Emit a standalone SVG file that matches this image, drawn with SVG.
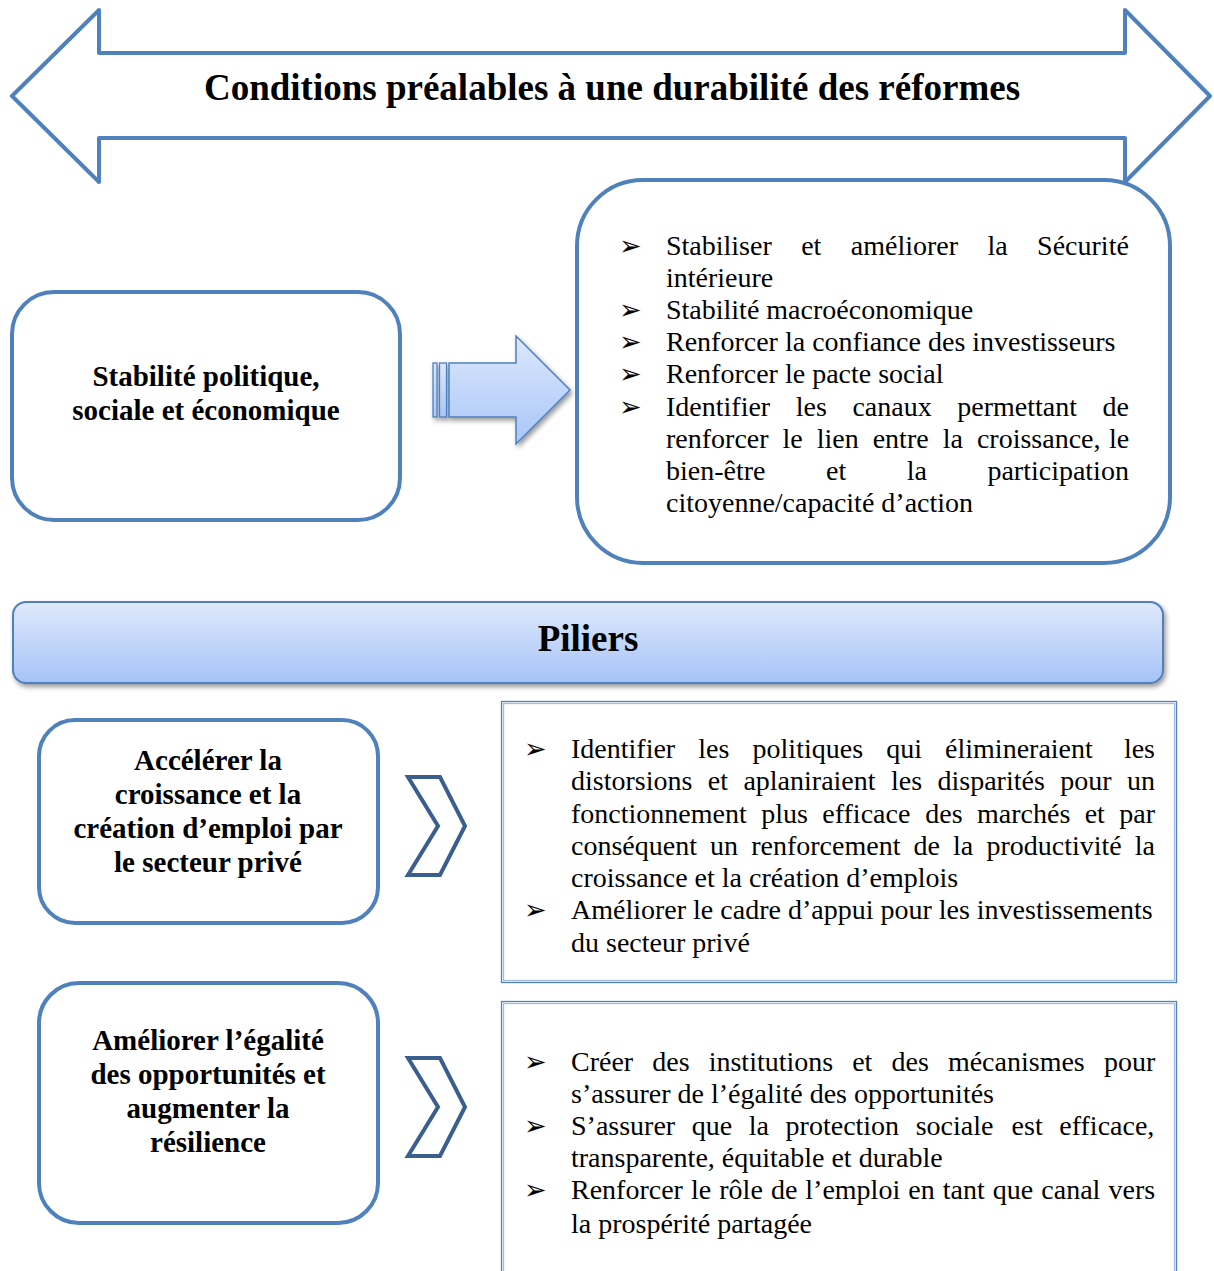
<svg xmlns="http://www.w3.org/2000/svg" width="1214" height="1271" viewBox="0 0 1214 1271">
<defs>
  <linearGradient id="gBar" x1="0" y1="0" x2="0" y2="1">
    <stop offset="0" stop-color="#dfe9fc"/>
    <stop offset="1" stop-color="#a6c3f7"/>
  </linearGradient>
  <linearGradient id="gArrow" x1="0" y1="0" x2="0" y2="1">
    <stop offset="0" stop-color="#dce8fc"/>
    <stop offset="1" stop-color="#a9c6f8"/>
  </linearGradient>
  <filter id="shadow" x="-10%" y="-20%" width="130%" height="160%">
    <feGaussianBlur in="SourceAlpha" stdDeviation="2.5"/>
    <feOffset dx="2" dy="3" result="b"/>
    <feComponentTransfer><feFuncA type="linear" slope="0.4"/></feComponentTransfer>
    <feMerge><feMergeNode/><feMergeNode in="SourceGraphic"/></feMerge>
  </filter>
  <style>
    .outline { fill: #ffffff; stroke: #4f81bd; stroke-width: 4; stroke-linejoin: round; }
    .chev { fill: #ffffff; stroke: #3a5f8f; stroke-width: 4; stroke-linejoin: miter; }
    .dbl-out { fill: none; stroke: #4f81bd; stroke-width: 1.3; }
    .dbl-in { fill: none; stroke: #a3bde0; stroke-width: 1.3; }
    .title { font-family: "Liberation Serif", "Times New Roman", serif; font-weight: bold; fill: #000; }
    .body { font-family: "Liberation Serif", "Times New Roman", serif; font-size: 28px; fill: #000; }
    .bul { font-family: "DejaVu Sans", sans-serif; font-size: 27px; fill: #000; }
  </style>
</defs>

<rect width="1214" height="1271" fill="#ffffff"/>

<g id="banner">
  <polygon class="outline" points="12,96 99,10 99,53 1125,53 1125,10 1210,96 1125,182 1125,138 99,138 99,182"/>
  <text class="title" x="612" y="100" font-size="37" text-anchor="middle">Conditions préalables à une durabilité des réformes</text>
</g>

<g id="node-stabilite">
  <rect class="outline" x="12" y="292" width="388" height="228" rx="42" ry="42"/>
  <text class="title" font-size="29" text-anchor="middle"><tspan x="206" y="386">Stabilité politique,</tspan><tspan x="206" y="420">sociale et économique</tspan></text>
</g>

<g id="node-conditions-list">
  <rect class="outline" x="577" y="180" width="593" height="383" rx="66" ry="66"/>
  <g class="bul">
    <text x="619" y="255">➢</text>
    <text x="619" y="319">➢</text>
    <text x="619" y="351">➢</text>
    <text x="619" y="383">➢</text>
    <text x="619" y="416">➢</text>
  </g>
  <g class="body">
    <text y="255"><tspan x="666">Stabiliser</tspan><tspan x="801.2">et</tspan><tspan x="850.8">améliorer</tspan><tspan x="987.5">la</tspan><tspan x="1037.1">Sécurité</tspan></text>
    <text x="666" y="287">intérieure</text>
    <text x="666" y="319">Stabilité macroéconomique</text>
    <text x="666" y="351">Renforcer la confiance des investisseurs</text>
    <text x="666" y="383">Renforcer le pacte social</text>
    <text y="416"><tspan x="666">Identifier</tspan><tspan x="795.8">les</tspan><tspan x="852.4">canaux</tspan><tspan x="957.3">permettant</tspan><tspan x="1102.6">de</tspan></text>
    <text y="448"><tspan x="666">renforcer</tspan><tspan x="782.6">le</tspan><tspan x="816.8">lien</tspan><tspan x="872.7">entre</tspan><tspan x="942.7">la</tspan><tspan x="976.9">croissance,</tspan><tspan x="1108.9">le</tspan></text>
    <text y="480"><tspan x="666">bien-être</tspan><tspan x="826">et</tspan><tspan x="906.7">la</tspan><tspan x="987.4">participation</tspan></text>
    <text x="666" y="512">citoyenne/capacité d’action</text>
  </g>
</g>

<g id="node-piliers">
  <rect x="13" y="602" width="1150" height="81" rx="13" ry="13" fill="url(#gBar)" stroke="#4f81bd" stroke-width="2" filter="url(#shadow)"/>
  <text class="title" x="588" y="651" font-size="37" text-anchor="middle">Piliers</text>
</g>

<g id="node-croissance">
  <rect class="outline" x="39" y="720" width="339" height="203" rx="36" ry="36"/>
  <text class="title" font-size="29" text-anchor="middle"><tspan x="208" y="770">Accélérer la</tspan><tspan x="208" y="804">croissance et la</tspan><tspan x="208" y="838">création d’emploi par</tspan><tspan x="208" y="872">le secteur privé</tspan></text>
</g>

<g id="node-croissance-list">
  <rect class="dbl-out" x="501.5" y="701.5" width="675" height="281"/>
  <rect class="dbl-in" x="503.5" y="703.5" width="671" height="277"/>
  <g class="bul">
    <text x="524" y="758">➢</text>
    <text x="524" y="919">➢</text>
  </g>
  <g class="body">
    <text y="758"><tspan x="571">Identifier</tspan><tspan x="698.3">les</tspan><tspan x="752.6">politiques</tspan><tspan x="886.2">qui</tspan><tspan x="945.1">élimineraient</tspan><tspan x="1123.9">les</tspan></text>
    <text y="790"><tspan x="571">distorsions</tspan><tspan x="707.8">et</tspan><tspan x="743.4">aplaniraient</tspan><tspan x="891">les</tspan><tspan x="937.5">disparités</tspan><tspan x="1060.2">pour</tspan><tspan x="1126.9">un</tspan></text>
    <text y="823"><tspan x="571">fonctionnement</tspan><tspan x="761.2">plus</tspan><tspan x="822.3">efficace</tspan><tspan x="925.3">des</tspan><tspan x="977">marchés</tspan><tspan x="1084.7">et</tspan><tspan x="1119.3">par</tspan></text>
    <text y="855"><tspan x="571">conséquent</tspan><tspan x="710.1">un</tspan><tspan x="751.2">renforcement</tspan><tspan x="913.6">de</tspan><tspan x="953.1">la</tspan><tspan x="986.4">productivité</tspan><tspan x="1134.8">la</tspan></text>
    <text x="571" y="887">croissance et la création d’emplois</text>
    <text x="571" y="919">Améliorer le cadre d’appui pour les investissements</text>
    <text x="571" y="952">du secteur privé</text>
  </g>
</g>

<g id="node-egalite">
  <rect class="outline" x="39" y="983" width="339" height="240" rx="40" ry="40"/>
  <text class="title" font-size="29" text-anchor="middle"><tspan x="208" y="1050">Améliorer l’égalité</tspan><tspan x="208" y="1084">des opportunités et</tspan><tspan x="208" y="1118">augmenter la</tspan><tspan x="208" y="1152">résilience</tspan></text>
</g>

<g id="node-egalite-list">
  <rect class="dbl-out" x="501.5" y="1001.5" width="675" height="300"/>
  <rect class="dbl-in" x="503.5" y="1003.5" width="671" height="296"/>
  <g class="bul">
    <text x="524" y="1071">➢</text>
    <text x="524" y="1135">➢</text>
    <text x="524" y="1199">➢</text>
  </g>
  <g class="body">
    <text y="1071"><tspan x="571">Créer</tspan><tspan x="652.3">des</tspan><tspan x="708.7">institutions</tspan><tspan x="852.2">et</tspan><tspan x="891.5">des</tspan><tspan x="947.9">mécanismes</tspan><tspan x="1103.9">pour</tspan></text>
    <text x="571" y="1103">s’assurer de l’égalité des opportunités</text>
    <text y="1135"><tspan x="571">S’assurer</tspan><tspan x="691.8">que</tspan><tspan x="748.8">la</tspan><tspan x="785.6">protection</tspan><tspan x="915.7">sociale</tspan><tspan x="1011.6">est</tspan><tspan x="1059.3">efficace,</tspan></text>
    <text x="571" y="1167">transparente, équitable et durable</text>
    <text y="1199"><tspan x="571">Renforcer</tspan><tspan x="691">le</tspan><tspan x="719.3">rôle</tspan><tspan x="770.9">de</tspan><tspan x="805.3">l’emploi</tspan><tspan x="908.3">en</tspan><tspan x="942.8">tant</tspan><tspan x="992.8">que</tspan><tspan x="1041.3">canal</tspan><tspan x="1108.5">vers</tspan></text>
    <text x="571" y="1233">la prospérité partagée</text>
  </g>
</g>

<g id="connectors">
  <g id="arrow-stabilite" filter="url(#shadow)">
    <rect x="433" y="363" width="4" height="54" fill="url(#gArrow)" stroke="#4f81bd" stroke-width="1.3"/>
    <rect x="439.5" y="363" width="7" height="54" fill="url(#gArrow)" stroke="#4f81bd" stroke-width="1.3"/>
    <polygon points="449,363 516,363 516,336 570,390 516,444 516,417 449,417" fill="url(#gArrow)" stroke="#4f81bd" stroke-width="1.5" stroke-linejoin="miter"/>
  </g>
  <polygon id="chevron-1" class="chev" points="408,777 440,777 465,826 440,875 408,875 438,826"/>
  <polygon id="chevron-2" class="chev" points="408,1058 440,1058 465,1107 440,1156 408,1156 438,1107"/>
</g>
</svg>
